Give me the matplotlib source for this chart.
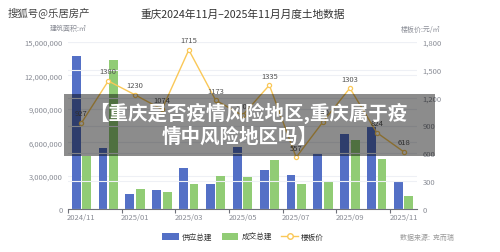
import matplotlib
matplotlib.use("Agg")
import matplotlib.pyplot as plt
import numpy as np
from matplotlib.ticker import FuncFormatter
from matplotlib.patches import Rectangle, Patch
from matplotlib.lines import Line2D

plt.rcParams['font.family'] = ['Noto Sans CJK SC', 'DejaVu Sans']

months = ['2024/11', '2024/12', '2025/01', '2025/02', '2025/03', '2025/04', '2025/05',
          '2025/06', '2025/07', '2025/08', '2025/09', '2025/10', '2025/11']
supply = [13700000, 5480000, 1350000, 1700000, 3680000, 2270000, 5600000,
          3500000, 3050000, 5030000, 6760000, 7500000, 2500000]
deal = [4790000, 13360000, 1770000, 1530000, 2250000, 2960000, 2900000,
        4400000, 2200000, 2540000, 6220000, 4490000, 1170000]
price = [927, 1380, 1230, 1074, 1715, 1173, 1009, 1335, 557, 940, 1303, 824, 618]

blue = '#5470c6'
green = '#91cc75'
yellow = '#fac858'
tick_c = '#8a8d96'

fig = plt.figure(figsize=(5, 2.53), dpi=100)
ax = fig.add_axes([0.136, 0.17, 0.698, 0.66])
ax2 = ax.twinx()

x = np.arange(len(months))
ax.bar(x - 0.195, supply, width=0.33, color=blue, zorder=2)
ax.bar(x + 0.195, deal, width=0.33, color=green, zorder=2)

ax.set_xlim(-0.5, len(months) - 0.5)
ax.set_ylim(0, 15000000)
ax.set_yticks(np.arange(0, 15000001, 3000000))
ax.yaxis.set_major_formatter(FuncFormatter(lambda v, p: f'{int(v):,}'))
ax.grid(axis='y', color='#eef0f5', linewidth=0.8, zorder=0)
ax.set_axisbelow(True)

ax.set_xticks(x[::2])
ax.set_xticklabels(months[::2])
ax.set_xticks(np.arange(-0.5, len(months), 2), minor=True)
ax.tick_params(axis='x', which='major', length=0, labelsize=5.5, labelcolor=tick_c, pad=3)
ax.tick_params(axis='x', which='minor', length=3, color='#6e7079', width=0.8)
ax.tick_params(axis='y', length=0, labelsize=5.5, labelcolor=tick_c, pad=4)

for s in ['top', 'right', 'left']:
    ax.spines[s].set_visible(False)
    ax2.spines[s].set_visible(False)
ax.spines['bottom'].set_color('#6e7079')
ax.spines['bottom'].set_linewidth(0.8)
ax2.spines['bottom'].set_visible(False)

ax2.plot(x, price, color=yellow, linewidth=1, marker='o', markersize=3,
         markerfacecolor='white', markeredgecolor=yellow, markeredgewidth=0.9, zorder=3)
for xi, p in zip(x, price):
    ax2.annotate(str(p), (xi, p), xytext=(0, 4), textcoords='offset points',
                 ha='center', va='bottom', fontsize=5.5, color='#555555')
ax2.set_ylim(0, 1800)
ax2.set_yticks(np.arange(0, 1801, 300))
ax2.yaxis.set_major_formatter(FuncFormatter(lambda v, p: f'{int(v):,}'))
ax2.grid(axis='y', color='#eef0f5', linewidth=0.8)
ax2.tick_params(axis='y', length=0, labelsize=5.5, labelcolor=tick_c, pad=4)

fig.text(0.016, 0.95, '搜狐号@乐居房产', fontsize=7.5, color='#444444', va='center')
fig.text(0.485, 0.94, '重庆2024年11月–2025年11月月度土地数据', fontsize=7.7,
         color='#333333', ha='center', va='center')
fig.text(0.1, 0.885, '建筑面积:㎡', fontsize=5, color=tick_c, va='center')
fig.text(0.88, 0.88, '楼板价:元/㎡', fontsize=5, color=tick_c, va='center', ha='right')
fig.text(0.8, 0.06, '数据来源:  克而瑞', fontsize=5, color='#999999', va='center')

handles = [Patch(facecolor=blue), Patch(facecolor=green),
           Line2D([0], [0], color=yellow, marker='o', markersize=4,
                  markerfacecolor='white', markeredgecolor=yellow, linewidth=1)]
fig.legend(handles, ['供应总建', '成交总建', '楼板价'], loc='center',
           bbox_to_anchor=(0.486, 0.06), ncol=3, frameon=False, fontsize=5.5,
           handlelength=2.2, handleheight=1.0, columnspacing=1.2, handletextpad=0.4,
           labelcolor='#333333')

# overlay banner
fig.patches.append(Rectangle((0.128, 1 - 157 / 253), (435 - 64) / 500, 62 / 253,
                             transform=fig.transFigure, facecolor='black',
                             alpha=0.45, zorder=10))
fig.text(0.496, 1 - 113 / 253, '【重庆是否疫情风险地区,重庆属于疫', fontsize=14,
         color='white', fontweight='bold', ha='center', va='center', zorder=11)
fig.text(0.48, 1 - 137 / 253, '情中风险地区吗】', fontsize=14,
         color='white', fontweight='bold', ha='center', va='center', zorder=11)

fig.savefig('out.png', dpi=100)
